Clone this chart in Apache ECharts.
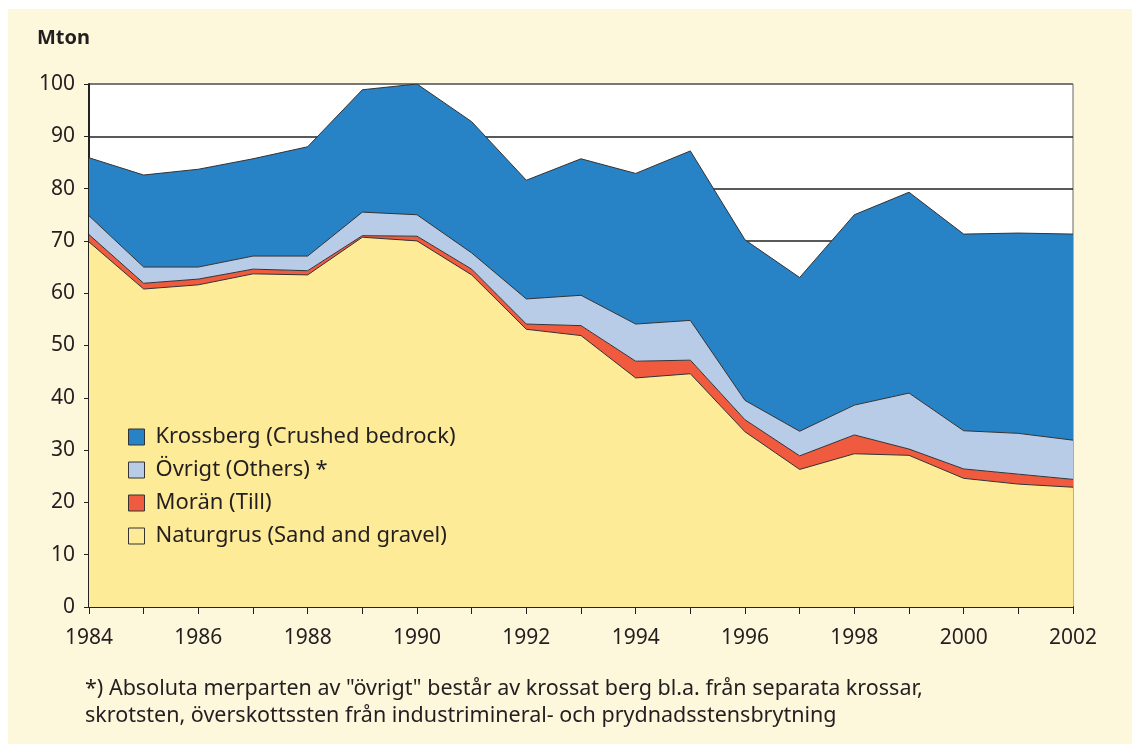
<!DOCTYPE html>
<html>
<head>
<meta charset="utf-8">
<script src="https://cdn.jsdelivr.net/npm/echarts@6/dist/echarts.min.js"></script>
<style>
  html, body { margin: 0; padding: 0; background: #fff; }
  #wrap { position: absolute; left: 8px; top: 9px; width: 1124px; height: 735px; background: #fdf7dc; }
  #chart { position: absolute; left: -8px; top: -9px; width: 1132px; height: 744px; }
</style>
</head>
<body>
<div id="wrap"><div id="chart"></div></div>
<script>
// years on the x axis
const years = ['1984', '1985', '1986', '1987', '1988', '1989', '1990', '1991', '1992', '1993',
  '1994', '1995', '1996', '1997', '1998', '1999', '2000', '2001', '2002'];

// Mton per category (stacked, bottom to top)
const naturgrus = [69.8, 60.8, 61.6, 63.7, 63.5, 70.7, 70.0, 63.5, 53.1, 51.9,
  43.8, 44.6, 33.5, 26.3, 29.3, 29.0, 24.6, 23.5, 22.9];
const moran = [1.4, 1.1, 1.1, 0.9, 0.8, 0.3, 0.9, 1.1, 1.0, 1.9,
  3.2, 2.6, 2.3, 2.6, 3.6, 1.2, 1.8, 1.9, 1.5];
const ovrigt = [3.6, 3.1, 2.3, 2.5, 2.8, 4.5, 4.1, 3.1, 4.8, 5.8,
  7.1, 7.6, 3.7, 4.7, 5.7, 10.7, 7.3, 7.8, 7.5];
const krossberg = [11.1, 17.6, 18.7, 18.6, 20.9, 23.4, 25.0, 25.1, 22.7, 26.1,
  28.8, 32.4, 30.7, 29.4, 36.4, 38.4, 37.6, 38.3, 39.4];

const names = {
  krossberg: 'Krossberg (Crushed bedrock)',
  ovrigt: 'Övrigt (Others) *',
  moran: 'Morän (Till)',
  naturgrus: 'Naturgrus (Sand and gravel)',
};
const colors = {
  krossberg: '#2882c6',
  ovrigt: '#b9cce7',
  moran: '#f05a3e',
  naturgrus: '#fdeb98',
};

const font = "'Noto Sans', 'Open Sans', sans-serif";
const textColor = '#231f20';

function areaSeries(key, data) {
  return {
    name: names[key],
    type: 'line',
    stack: 'total',
    data: data,
    symbol: 'none',
    lineStyle: { color: '#333', width: 1 },
    itemStyle: { color: colors[key], borderColor: '#333', borderWidth: 1 },
    areaStyle: { color: colors[key], opacity: 1 },
  };
}

function legendItem(key) {
  return { name: names[key], itemStyle: { color: colors[key], borderColor: '#333', borderWidth: 1 } };
}

const chart = echarts.init(document.getElementById('chart'));

// grid lines: black, except the top edge which is grey
const splitColors = ['#222', '#222', '#222', '#222', '#222', '#222', '#222', '#222', '#222', '#222', '#666'];

chart.setOption({
  animation: false,
  textStyle: { fontFamily: font },
  grid: {
    left: 89, top: 84, right: 59, bottom: 137,
    show: true, backgroundColor: '#fff', borderColor: '#666', borderWidth: 1,
  },
  graphic: [
    {
      type: 'text', left: 37, top: 28,
      style: { text: 'Mton', font: 'bold 20px ' + font, fill: textColor },
    },
    {
      type: 'text', left: 85, top: 675,
      style: {
        text: '*) Absoluta merparten av "övrigt" består av krossat berg bl.a. från separata krossar,\nskrotsten, överskottssten från industrimineral- och prydnadsstensbrytning',
        font: '21.5px ' + font, fill: textColor, lineHeight: 27,
      },
    },
  ],
  legend: {
    orient: 'vertical',
    left: 123, top: 421,
    itemWidth: 16, itemHeight: 16, itemGap: 11,
    icon: 'rect',
    textStyle: { fontSize: 22, lineHeight: 22, color: textColor, fontFamily: font, padding: [0, 0, 0, 6] },
    data: [legendItem('krossberg'), legendItem('ovrigt'), legendItem('moran'), legendItem('naturgrus')],
  },
  xAxis: {
    type: 'category',
    data: years,
    boundaryGap: false,
    axisLine: { lineStyle: { color: '#222', width: 2 } },
    axisTick: { interval: 0, length: 7, lineStyle: { color: '#222', width: 1 } },
    axisLabel: { interval: 1, fontSize: 21, color: textColor, margin: 21 },
    splitLine: { show: false },
  },
  yAxis: {
    type: 'value',
    min: 0, max: 100, interval: 10,
    axisLine: { show: true, lineStyle: { color: '#222', width: 2 } },
    axisTick: { show: true, length: 5, lineStyle: { color: '#222' } },
    axisLabel: { fontSize: 21, color: textColor, margin: 14 },
    splitLine: { show: true, lineStyle: { color: splitColors, width: 1.5 } },
  },
  series: [
    areaSeries('naturgrus', naturgrus),
    areaSeries('moran', moran),
    areaSeries('ovrigt', ovrigt),
    areaSeries('krossberg', krossberg),
  ],
});
</script>
</body>
</html>
